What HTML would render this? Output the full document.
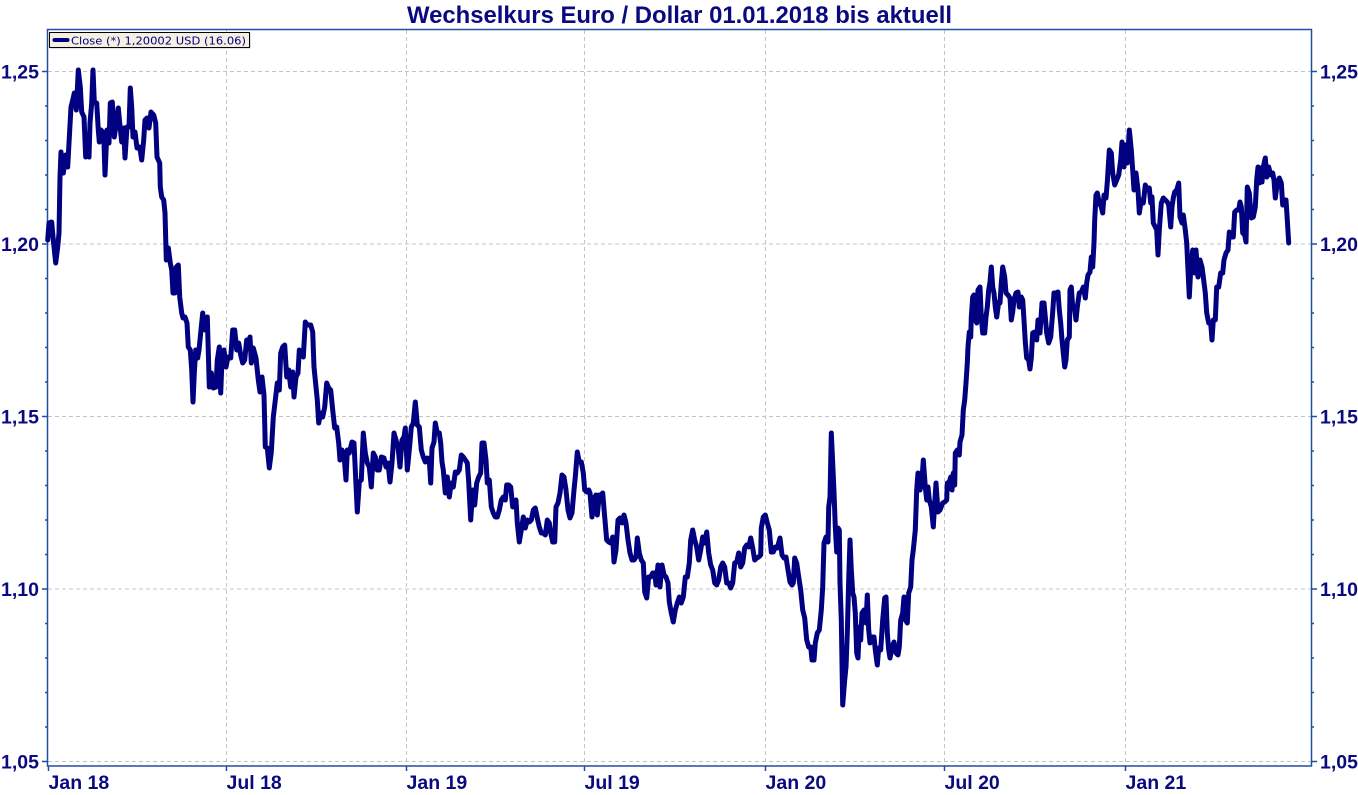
<!DOCTYPE html>
<html>
<head>
<meta charset="utf-8">
<style>
html,body{margin:0;padding:0;background:#fff;}
svg{display:block;}
.lab{font-family:"Liberation Sans",Arial,sans-serif;font-weight:bold;font-size:19.5px;fill:#0a0a80;}
</style>
</head>
<body>
<svg width="1358" height="795" viewBox="0 0 1358 795" xmlns="http://www.w3.org/2000/svg">
<rect x="0" y="0" width="1358" height="795" fill="#fff"/>
<!-- title -->
<text x="679.5" y="23" text-anchor="middle" textLength="545" lengthAdjust="spacingAndGlyphs" font-family="Liberation Sans, Arial, sans-serif" font-weight="bold" font-size="24" fill="#0a0a80">Wechselkurs Euro / Dollar 01.01.2018 bis aktuell</text>

<!-- grid -->
<g stroke="#c4c4c4" stroke-width="1" stroke-dasharray="4 3" fill="none">
<line x1="48" y1="71.5" x2="1311" y2="71.5"/>
<line x1="48" y1="244" x2="1311" y2="244"/>
<line x1="48" y1="416.5" x2="1311" y2="416.5"/>
<line x1="48" y1="589" x2="1311" y2="589"/>
<line x1="48" y1="761.5" x2="1311" y2="761.5"/>
<line x1="226.5" y1="30" x2="226.5" y2="766"/>
<line x1="406.5" y1="30" x2="406.5" y2="766"/>
<line x1="584.5" y1="30" x2="584.5" y2="766"/>
<line x1="765.5" y1="30" x2="765.5" y2="766"/>
<line x1="944.5" y1="30" x2="944.5" y2="766"/>
<line x1="1125.5" y1="30" x2="1125.5" y2="766"/>
</g>

<!-- frame -->
<rect x="47.5" y="29.5" width="1264" height="736.5" fill="none" stroke="#1f4fa3" stroke-width="1.5"/>

<!-- y ticks -->
<g stroke="#1f4fa3" stroke-width="1.5">
<line x1="42" y1="71.5" x2="47.5" y2="71.5"/>
<line x1="42" y1="244" x2="47.5" y2="244"/>
<line x1="42" y1="416.5" x2="47.5" y2="416.5"/>
<line x1="42" y1="589" x2="47.5" y2="589"/>
<line x1="42" y1="761.5" x2="47.5" y2="761.5"/>
<line x1="1311.5" y1="71.5" x2="1317" y2="71.5"/>
<line x1="1311.5" y1="244" x2="1317" y2="244"/>
<line x1="1311.5" y1="416.5" x2="1317" y2="416.5"/>
<line x1="1311.5" y1="589" x2="1317" y2="589"/>
<line x1="1311.5" y1="761.5" x2="1317" y2="761.5"/>
<!-- minor -->
<line x1="45" y1="106" x2="47.5" y2="106"/><line x1="45" y1="140.5" x2="47.5" y2="140.5"/><line x1="45" y1="175" x2="47.5" y2="175"/><line x1="45" y1="209.5" x2="47.5" y2="209.5"/>
<line x1="45" y1="278.5" x2="47.5" y2="278.5"/><line x1="45" y1="313" x2="47.5" y2="313"/><line x1="45" y1="347.5" x2="47.5" y2="347.5"/><line x1="45" y1="382" x2="47.5" y2="382"/>
<line x1="45" y1="451" x2="47.5" y2="451"/><line x1="45" y1="485.5" x2="47.5" y2="485.5"/><line x1="45" y1="520" x2="47.5" y2="520"/><line x1="45" y1="554.5" x2="47.5" y2="554.5"/>
<line x1="45" y1="623.5" x2="47.5" y2="623.5"/><line x1="45" y1="658" x2="47.5" y2="658"/><line x1="45" y1="692.5" x2="47.5" y2="692.5"/><line x1="45" y1="727" x2="47.5" y2="727"/>
<line x1="1311.5" y1="106" x2="1314" y2="106"/><line x1="1311.5" y1="140.5" x2="1314" y2="140.5"/><line x1="1311.5" y1="175" x2="1314" y2="175"/><line x1="1311.5" y1="209.5" x2="1314" y2="209.5"/>
<line x1="1311.5" y1="278.5" x2="1314" y2="278.5"/><line x1="1311.5" y1="313" x2="1314" y2="313"/><line x1="1311.5" y1="347.5" x2="1314" y2="347.5"/><line x1="1311.5" y1="382" x2="1314" y2="382"/>
<line x1="1311.5" y1="451" x2="1314" y2="451"/><line x1="1311.5" y1="485.5" x2="1314" y2="485.5"/><line x1="1311.5" y1="520" x2="1314" y2="520"/><line x1="1311.5" y1="554.5" x2="1314" y2="554.5"/>
<line x1="1311.5" y1="623.5" x2="1314" y2="623.5"/><line x1="1311.5" y1="658" x2="1314" y2="658"/><line x1="1311.5" y1="692.5" x2="1314" y2="692.5"/><line x1="1311.5" y1="727" x2="1314" y2="727"/>
<!-- x ticks -->
<line x1="48.5" y1="766" x2="48.5" y2="771"/>
<line x1="226.5" y1="766" x2="226.5" y2="771"/>
<line x1="406.5" y1="766" x2="406.5" y2="771"/>
<line x1="584.5" y1="766" x2="584.5" y2="771"/>
<line x1="765.5" y1="766" x2="765.5" y2="771"/>
<line x1="944.5" y1="766" x2="944.5" y2="771"/>
<line x1="1125.5" y1="766" x2="1125.5" y2="771"/>
</g>

<!-- y labels -->
<g class="lab" text-anchor="end">
<text x="39" y="78.5">1,25</text>
<text x="39" y="251">1,20</text>
<text x="39" y="423.5">1,15</text>
<text x="39" y="596">1,10</text>
<text x="39" y="768.5">1,05</text>
</g>
<g class="lab" text-anchor="start">
<text x="1320" y="78.5">1,25</text>
<text x="1320" y="251">1,20</text>
<text x="1320" y="423.5">1,15</text>
<text x="1320" y="596">1,10</text>
<text x="1320" y="768.5">1,05</text>
</g>
<!-- x labels -->
<g class="lab">
<text x="48.5" y="789">Jan 18</text>
<text x="226.5" y="789">Jul 18</text>
<text x="406.5" y="789">Jan 19</text>
<text x="584.5" y="789">Jul 19</text>
<text x="765.5" y="789">Jan 20</text>
<text x="944.5" y="789">Jul 20</text>
<text x="1125.5" y="789">Jan 21</text>
</g>

<!-- series -->
<polyline fill="none" stroke="#000080" stroke-width="5" stroke-linejoin="round" stroke-linecap="round" points="
47.7,240 49,223 51.7,222 53.3,240 55.7,263 57.7,247 59,233 60,177 61,152 63.3,173 65.7,155 67.7,167 69,143 71,107 72.3,102 74.3,93 76.3,110 78.3,70 80.3,87 81.7,112 84,117 85.7,157 87.7,140 89,157 90,123 91.7,103 93,70 94.3,102 96.7,103 98.3,130 99.3,142 101,130 103.7,133 105,175 107,130 109,143 110.3,103 112.3,102 114.3,137 116.3,123 118.3,108 119.7,123 121.7,142 123.7,128 125,158 127,127 129,127 130.3,88 131.7,107 133,137 135,132 137,148 139.7,147 141.7,160 143.7,140 145,120 147,118 149,128 151,112 153.7,115 155.7,123 157,157 159.7,163 160.3,187 161.7,197 163.7,200 165,213 166.3,260 168.3,248 170.3,263 171.7,270 173,293 175,293 176.3,267 178.3,265 179.7,297 181.7,313 183,318 185,317 187,323 188.3,347 190.3,350 191.7,370 193,402 194.3,373 195.7,350 197.7,358 199,350 201,330
202.7,313 205,330 207.3,317 209.3,387 211.3,373 213.3,388 216,387 217.3,360 219.3,347 220.7,393 222,360 224,350 226,367 228,357 230.7,358 232.7,330 234.7,330 236.7,350 238.7,343 240.7,355 242.7,363 244.7,360 246.7,340 248.7,347 250,337 251.3,363 253.3,348 256,358 258.3,380 260,392 262,377 264,395 265.3,447 267.3,448 269.3,468 271.3,452 273.3,417 275.3,400 277.3,383 279.3,390 280.7,353 282.7,347 284.7,345 286.7,377 288.7,370 290.7,387 292.7,372 294,397 296,377 298,373 299.3,350 301.3,352 303.3,357 305.3,322 307.3,325 310.7,325 312.7,332 314,367 316,387 317.3,400 318.7,423 320.7,413 322.7,417 324.7,407 326.7,383 328.7,388 330.7,390 332.7,410 334.7,428 336.7,427 338.7,443 340,460 342,450 344,455 346,480 347.3,450 349.3,453 352,442 354,443 355.3,470 357.3,512 359.3,482 361.3,480 363.3,433 365.3,453 367.3,463 369.3,467 371.3,487 373.3,453 375.3,457 377.3,470 379.3,470 381.3,457 384,458 386,467 388,463 390,482 392,463 394,433 396,440 398,447
400,467 402,440 404,437 405.3,428 407.3,470 409.3,450 411.3,427 413.3,423 415.3,402 417.3,425 419.3,427 421.3,450 423.3,457 425.3,462 427.3,458 429.3,460 430.7,483 432,448 434,442 435.3,423 437.3,433 439.3,433 440.7,443 442,462 443.3,470 445.3,493 447.3,477 449.3,497 451.3,483 453.3,487 455.3,472 457.3,473 459.3,470 461.3,455 463.3,457 465.3,460 467.3,463 468.7,482 470.7,520 472.7,490 474.7,505 476.7,483 478.7,477 480.7,473 482,443 484,443 486,460 487.3,483 489.3,480 491.3,507 493.3,513 495.3,517 497.3,517 499.3,510 501.3,500 503.3,497 505.3,500 506.7,485 508.7,485 510.7,487 512.7,507 514.7,502 516,500 517.3,523 519.3,542 521.3,530 523.3,517 525.3,528 527.3,520 529.3,522 531.3,520 533.3,510 535.3,508 537.3,518 539.3,527 541.3,533 543.3,533 545.3,535 547.3,520 549.3,523 550.7,533 552.7,542 554.7,542 556,507 558,503 560,493 562,475 564,477 566,490 568,510 570,518 572,513 574,490 575.3,477 577.3,452 579.3,462 581.3,462 583.3,473 584.7,490 586.7,492 588.7,490
590,493 592,517 594,498 596,495 597.3,515 599.3,495 600.7,495 602.7,493 604.7,517 606.7,540 608.7,542 610.7,543 612.7,537 614,562 616,550 618,520 620,518 622,523 624,515 626,523 628,540 630,553 632,560 634,560 636,557 637.3,538 639.3,553 641.3,560 643.3,563 644.7,592 646.7,598 648.7,577 650.7,577 652.7,573 654.7,573 656,585 658,565 660,587 662,565 664,575 666,577 668,583 669.3,602 671.3,613 673.3,622 675.3,610 677.3,603 679.3,597 681.3,603 683.3,597 685.3,577 687.3,577 689.3,563 690.7,540 692.7,530 694.7,540 696.7,547 698.7,560 700.7,550 702.7,537 704.7,543 706.7,532 708.7,553 710.7,565 712.7,570 714.7,583 716.7,585 718.7,580 720.7,567 722.7,563 724.7,567 726.7,583 728.7,583 730.7,588 732.7,583 734.7,563 736.7,562 738.7,553 740.7,567 742.7,563 744.7,548 746.7,545 748.7,547 750.7,538 752.7,548 754.7,560 756.7,558 758.7,557 760.7,555 761.3,528 763.3,517 765.3,515 767.3,523 769.3,530 771.3,552 773.3,552 775.3,547 777.3,548
780,538 782,555 784,558 786,557 788,570 790,582 792,585 793.3,583 794.7,558 796.7,563 798.7,577 800.7,590 802.7,610 804.7,618 806.7,640 808.7,647 810.7,647 812,660 814,660 815.3,643 817.3,633 819.3,630 821.3,610 822.7,587 824,543 826,537 828,542 828.7,507 830,497 831.3,433 832.7,463 834,492 835.3,527 836.7,552 838,528 839.3,530 840,583 841.3,620 842.7,705 844.7,680 846,667 847.3,633 848.7,580 850,540 851.3,570 852.7,593 854,597 855.3,613 856.7,653 858,658 859.3,627 860.7,640 862,613 864,610 866,623 867.3,595 868.7,630 870,643 872,637 874,637 875.3,650 877.3,665 878.7,648 880.7,650 882.7,620 884.7,598 886,597 887.3,633 888.7,650 890,658 892,647 894,642 896,653 898,655 899.3,647 900.7,620 902.7,613 904,597 905.3,620 907.3,623 908.7,593 910.7,587 912,560 913.3,550 915.3,530 916.7,490 918,473 920,490 922,480 923.3,460 925.3,487 926.7,500 928,487 929.3,500 931.3,507 933.3,527 934.7,503 936,483 938,512
940,510 942.7,503 944.7,502 946.7,500 947.3,483 949.3,482 950.7,477 952,490 953.3,473 954.7,485 955.3,453 957.3,450 959.3,455 960,442 962,435 963.3,410 964.7,400 966,383 967.3,363 968,347 969.3,332 970.7,337 971.3,317 972.7,297 974,295 975.3,320 976.7,323 978,290 980,287 981.3,317 982.7,333 984.7,333 986,317 987.3,307 988.7,290 990,282 991.3,267 992.7,287 994,293 995.3,307 996.7,317 998.7,302 1000,303 1001.3,283 1002.7,267 1004.7,277 1006,293 1008,295 1010,298 1011.3,320 1012.7,312 1014,300 1016,293 1018,292 1019.3,307 1021.3,297 1022.7,300 1024,320 1025.3,342 1026.7,358 1028.7,360 1030,369 1031.3,358 1032.7,333 1034.7,332 1036.7,340 1038,320 1040,333 1042,303 1044,303 1045.3,317 1046.7,333 1048.7,343 1050.7,337 1052.7,312 1054,293 1056,293 1058,292 1059.3,310 1060.7,323 1062,340 1063.3,353 1064.7,367 1066,360 1067.3,340 1069.3,337 1070,290 1071.3,287 1072.7,307 1074.7,310 1076,320 1077.3,307 1079.3,293 1081.3,292 1083.3,287 1085.3,298 1086.7,283 1088,275 1090,272 1091.3,257 1092.7,267 1094,243 1094.7,220 1096,195 1097.3,193
1099.3,203 1101.3,207 1102.7,213 1104,195 1106,198 1107.3,182 1109.3,150 1111.3,153 1112.7,173 1114.7,185 1116.7,180 1118.7,175 1120.7,160 1122,142 1124,167 1125.3,145 1127.3,163 1129.3,130 1131.3,150 1132.7,170 1134,190 1136,173 1138,190 1139.3,213 1141.3,200 1143.3,203 1145.3,185 1147.3,190 1149.3,188 1150.7,203 1152,197 1153.3,223 1155.3,227 1156.7,230 1158,255 1159.3,230 1161.3,203 1163.3,198 1165.3,200 1167.3,202 1168.7,205 1170.7,227 1172,207 1173.3,198 1174.7,192 1176.7,190 1178.7,183 1180,217 1182,223 1183.3,215 1185.3,230 1186.7,243 1188,270 1189.3,297 1190.7,270 1192.7,250 1194.7,273 1196,250 1198,277 1200,260 1202,267 1203.3,277 1205.3,293 1206.7,313 1208.7,323 1210.7,323 1212,340 1213.3,320 1215.3,320 1216.7,287 1218.7,287 1220.7,273 1222.7,273 1224,260 1226,253 1228,250 1229.3,232 1231.3,237 1233.3,237 1234.7,212 1236.7,210 1238.7,210 1240,202 1241.3,207 1242.7,233 1244.7,235 1246,242 1247.3,187 1249.3,193 1251.3,218 1253.3,217 1255.3,207 1256.7,180 1258,167 1259.3,183 1260.7,168 1262,182 1263.3,167 1265.3,158 1266.7,177 1268.7,167 1270.7,175 1272.7,173 1274,180 1275.3,198 1277.3,183 1279.3,178 1281.3,183 1282.7,205 1284,200 1286,200 1287.3,220 1288.7,243"/>

<!-- legend -->
<rect x="50.5" y="33.5" width="200" height="15" fill="#b8c4dc"/>
<rect x="49.5" y="32.5" width="200" height="15" fill="#f6f0e2" stroke="#000" stroke-width="1"/>
<line x1="54.5" y1="40" x2="67.5" y2="40" stroke="#000080" stroke-width="4" stroke-linecap="round"/>
<text x="71" y="44.5" textLength="175" lengthAdjust="spacingAndGlyphs" font-family="DejaVu Sans, Liberation Sans, sans-serif" font-size="11" fill="#000080">Close (*) 1,20002 USD (16.06)</text>
</svg>
</body>
</html>
